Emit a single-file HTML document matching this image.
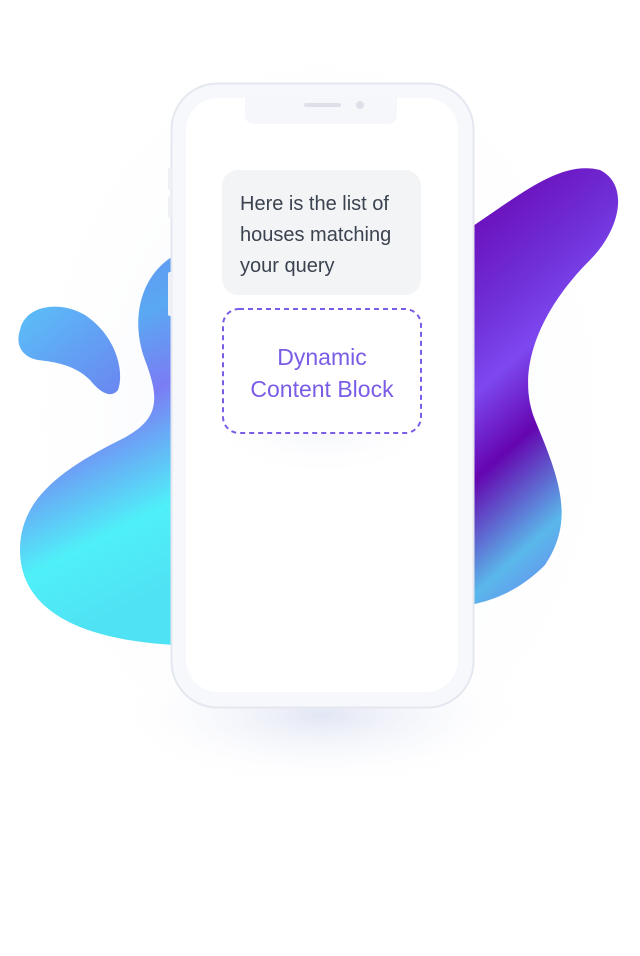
<!DOCTYPE html>
<html><head><meta charset="utf-8"><style>
html,body{margin:0;padding:0;background:#fff;}
body{width:640px;height:956px;position:relative;overflow:hidden;font-family:"Liberation Sans",sans-serif;}
svg{position:absolute;left:0;top:0;}
.t{position:absolute;}
</style></head><body>
<svg width="640" height="956" viewBox="0 0 640 956">
<defs>
<radialGradient id="sh" cx="0.5" cy="0.5" r="0.5">
<stop offset="0" stop-color="#dfe3f3" stop-opacity="0.9"/>
<stop offset="1" stop-color="#ffffff" stop-opacity="0"/>
</radialGradient>
<radialGradient id="bg" cx="0.5" cy="0.5" r="0.5">
<stop offset="0" stop-color="#eef1f8"/>
<stop offset="1" stop-color="#ffffff" stop-opacity="0"/>
</radialGradient>
<linearGradient id="lg" x1="0" y1="0" x2="0.2" y2="1">
<stop offset="0" stop-color="#6a8cf2"/>
<stop offset="0.3" stop-color="#5aa8f2"/>
<stop offset="0.5" stop-color="#7a7cf4"/>
<stop offset="0.8" stop-color="#4ff0f8"/>
<stop offset="1" stop-color="#4fe2f4"/>
</linearGradient>
<linearGradient id="dg" x1="0" y1="0" x2="1" y2="1">
<stop offset="0" stop-color="#5ac0f8"/>
<stop offset="1" stop-color="#6a86f0"/>
</linearGradient>
<linearGradient id="rg" x1="0.3" y1="0" x2="0.6" y2="1">
<stop offset="0" stop-color="#6a0cb8"/>
<stop offset="0.25" stop-color="#7030d8"/>
<stop offset="0.4" stop-color="#7d48f0"/>
<stop offset="0.58" stop-color="#6505b0"/>
<stop offset="0.82" stop-color="#5ab8ea"/>
<stop offset="1" stop-color="#6a80f2"/>
</linearGradient>
</defs>
<ellipse cx="320" cy="420" rx="330" ry="420" fill="url(#bg)"/>
<ellipse cx="322" cy="715" rx="210" ry="70" fill="url(#sh)"/>
<path d="M20 330 C25 305 60 300 85 315 C115 335 125 370 118 390 C110 400 98 390 90 380 C75 365 55 362 38 360 C22 357 15 345 20 330Z" fill="url(#dg)"/>
<path d="M175 255 C140 275 130 320 145 360 C160 400 160 420 120 440 C60 470 20 500 20 550 C20 610 80 640 175 645 Z" fill="url(#lg)"/>
<path d="M470 228 C520 195 560 160 600 170 C630 185 620 230 590 260 C540 310 515 370 535 420 C560 480 575 520 545 565 C520 590 495 600 470 605 Z" fill="url(#rg)"/>
<rect x="171.5" y="83.5" width="302" height="624" rx="46" fill="#f7f8fb" stroke="#e4e7ef" stroke-width="2"/>
<rect x="168" y="168" width="5" height="22" rx="2" fill="#eef0f5"/>
<rect x="168" y="196" width="5" height="22" rx="2" fill="#eef0f5"/>
<rect x="168" y="272" width="5" height="44" rx="2" fill="#eef0f5"/>
<rect x="186" y="98" width="272" height="594" rx="32" fill="#fff"/>
<path d="M245 98 H397 V114 Q397 124 387 124 H255 Q245 124 245 114Z" fill="#f6f7fa"/>
<rect x="304" y="103" width="37" height="4" rx="2" fill="#dde0e8"/>
<circle cx="360" cy="105" r="4" fill="#dde0e8"/>
<ellipse cx="322" cy="420" rx="120" ry="60" fill="url(#sh)" opacity="0.5"/>
<rect x="222" y="170" width="199" height="125" rx="16" fill="#f3f4f6"/>
<rect x="223" y="309" width="198" height="124" rx="16" fill="#fff" stroke="#7b5ce6" stroke-width="2" stroke-dasharray="5 4"/>
</svg>
<div class="t" style="left:240px;top:189px;font-size:20px;line-height:31px;color:#3b4350;">Here is the list of<br>houses matching<br>your query</div>
<div class="t" style="left:223px;top:341px;width:198px;text-align:center;font-size:23px;line-height:32px;color:#7b5ce6;">Dynamic<br>Content Block</div>
</body></html>
